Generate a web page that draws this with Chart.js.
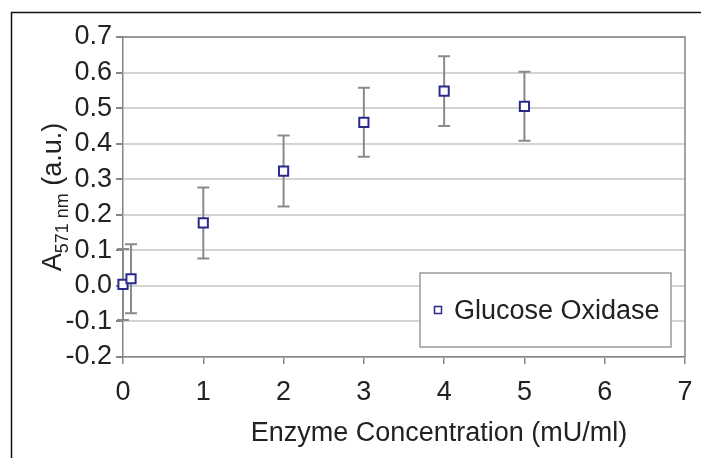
<!DOCTYPE html>
<html>
<head>
<meta charset="utf-8">
<script src="https://cdn.jsdelivr.net/npm/chart.js@4/dist/chart.umd.min.js"></script>
<style>
  body { margin: 0; background: #fff; }
  canvas { display: block; }
</style>
</head>
<body>
<canvas id="enzymeChart" width="701" height="458"></canvas>
<script>
// data
const concentrations = [0, 0.1, 1, 2, 3, 4, 5];
const absorbance = [0.004, 0.02, 0.177, 0.323, 0.46, 0.548, 0.505];
const absorbanceErr = [0.1, 0.097, 0.1, 0.1, 0.097, 0.098, 0.097];
const seriesLabel = 'Glucose Oxidase';
const xTitle = 'Enzyme Concentration (mU/ml)';

const FONT = '"Liberation Sans", Arial, sans-serif';
const NAVY = '#2a2a8a';
const AXIS_GRAY = '#858585';
const TEXT = '#222';

// outer frame + plot border
const frame = {
  id: 'frame',
  beforeDraw(chart) {
    const { ctx } = chart;
    ctx.save();
    ctx.strokeStyle = '#111';
    ctx.lineWidth = 1.5;
    ctx.beginPath();
    ctx.moveTo(11.5, 458);
    ctx.lineTo(11.5, 12.5);
    ctx.lineTo(701, 12.5);
    ctx.stroke();
    ctx.restore();
  },
  afterDraw(chart) {
    const { ctx, chartArea: a } = chart;
    ctx.save();
    ctx.strokeStyle = AXIS_GRAY;
    ctx.lineWidth = 1.5;
    ctx.beginPath();
    ctx.moveTo(a.left, a.top);
    ctx.lineTo(a.right, a.top);
    ctx.lineTo(a.right, a.bottom);
    ctx.stroke();
    ctx.restore();
  }
};

// vertical error bars under the markers
const errorBars = {
  id: 'errorBars',
  beforeDatasetsDraw(chart) {
    const { ctx, scales: { x, y } } = chart;
    ctx.save();
    ctx.strokeStyle = '#8a8a8a';
    ctx.lineWidth = 2;
    concentrations.forEach((c, i) => {
      const px = x.getPixelForValue(c);
      const top = y.getPixelForValue(absorbance[i] + absorbanceErr[i]);
      const bot = y.getPixelForValue(absorbance[i] - absorbanceErr[i]);
      ctx.beginPath();
      ctx.moveTo(px, top); ctx.lineTo(px, bot);
      ctx.moveTo(px - 6, top); ctx.lineTo(px + 6, top);
      ctx.moveTo(px - 6, bot); ctx.lineTo(px + 6, bot);
      ctx.stroke();
    });
    ctx.restore();
  }
};

// axis titles (subscript on y) and the boxed legend
const labels = {
  id: 'labels',
  afterDraw(chart) {
    const { ctx } = chart;
    ctx.save();
    ctx.fillStyle = TEXT;

    ctx.font = '27px ' + FONT;
    ctx.textAlign = 'center';
    ctx.textBaseline = 'alphabetic';
    ctx.fillText(xTitle, 439, 441);

    // y title, rotated
    const big = '27px ' + FONT, small = '18px ' + FONT;
    ctx.font = big;
    const wA = ctx.measureText('A').width;
    const wRest = ctx.measureText(' (a.u.)').width;
    ctx.font = small;
    const wSub = ctx.measureText('571 nm').width;
    const total = wA + wSub + wRest;
    ctx.translate(61, 197);
    ctx.rotate(-Math.PI / 2);
    ctx.textAlign = 'left';
    let px = -total / 2;
    ctx.font = big;
    ctx.fillText('A', px, 0);
    px += wA;
    ctx.font = small;
    ctx.fillText('571 nm', px, 7);
    px += wSub;
    ctx.font = big;
    ctx.fillText(' (a.u.)', px, 0);
    ctx.setTransform(1, 0, 0, 1, 0, 0);

    // legend
    const ds = chart.data.datasets[0];
    ctx.fillStyle = '#fff';
    ctx.fillRect(420, 273, 251, 74);
    ctx.strokeStyle = '#9a9a9a';
    ctx.lineWidth = 1.5;
    ctx.strokeRect(420, 273, 251, 74);
    ctx.strokeStyle = NAVY;
    ctx.lineWidth = 1.5;
    ctx.strokeRect(434.5, 306.5, 7, 7);
    ctx.fillStyle = TEXT;
    ctx.font = big;
    ctx.textAlign = 'left';
    ctx.textBaseline = 'middle';
    ctx.fillText(ds.label, 454, 312);
    ctx.restore();
  }
};

new Chart(document.getElementById('enzymeChart'), {
  type: 'scatter',
  data: {
    datasets: [{
      label: seriesLabel,
      data: concentrations.map((c, i) => ({ x: c, y: absorbance[i] })),
      pointStyle: 'rect',
      pointRadius: 6.5,
      pointHoverRadius: 6.5,
      borderWidth: 2,
      borderColor: NAVY,
      backgroundColor: '#fff',
      clip: false
    }]
  },
  options: {
    responsive: false,
    animation: false,
    layout: { padding: { top: 37, right: 16, left: 2, bottom: 0 } },
    plugins: {
      legend: { display: false },
      tooltip: { enabled: false }
    },
    scales: {
      x: {
        type: 'linear',
        min: 0,
        max: 7,
        afterFit: (s) => { s.height = 101; s.paddingRight = 0; s.paddingLeft = 0; },
        ticks: { stepSize: 1, font: { family: FONT, size: 27 }, color: TEXT, padding: 12, maxRotation: 0 },
        grid: { drawOnChartArea: false, tickColor: AXIS_GRAY, tickLength: 7, lineWidth: 1.5 },
        border: { color: AXIS_GRAY, width: 1.5 }
      },
      y: {
        min: -0.2,
        max: 0.7,
        afterFit: (s) => { s.width = 121; },
        ticks: {
          stepSize: 0.1,
          font: { family: FONT, size: 27 },
          color: TEXT,
          padding: 4,
          callback: (v) => (Math.abs(v) < 1e-9 ? 0 : v).toFixed(1)
        },
        grid: { color: '#d4d4d4', lineWidth: 2, tickColor: AXIS_GRAY, tickLength: 7 },
        border: { color: AXIS_GRAY, width: 1.5 }
      }
    }
  },
  plugins: [frame, errorBars, labels]
});
</script>
</body>
</html>
